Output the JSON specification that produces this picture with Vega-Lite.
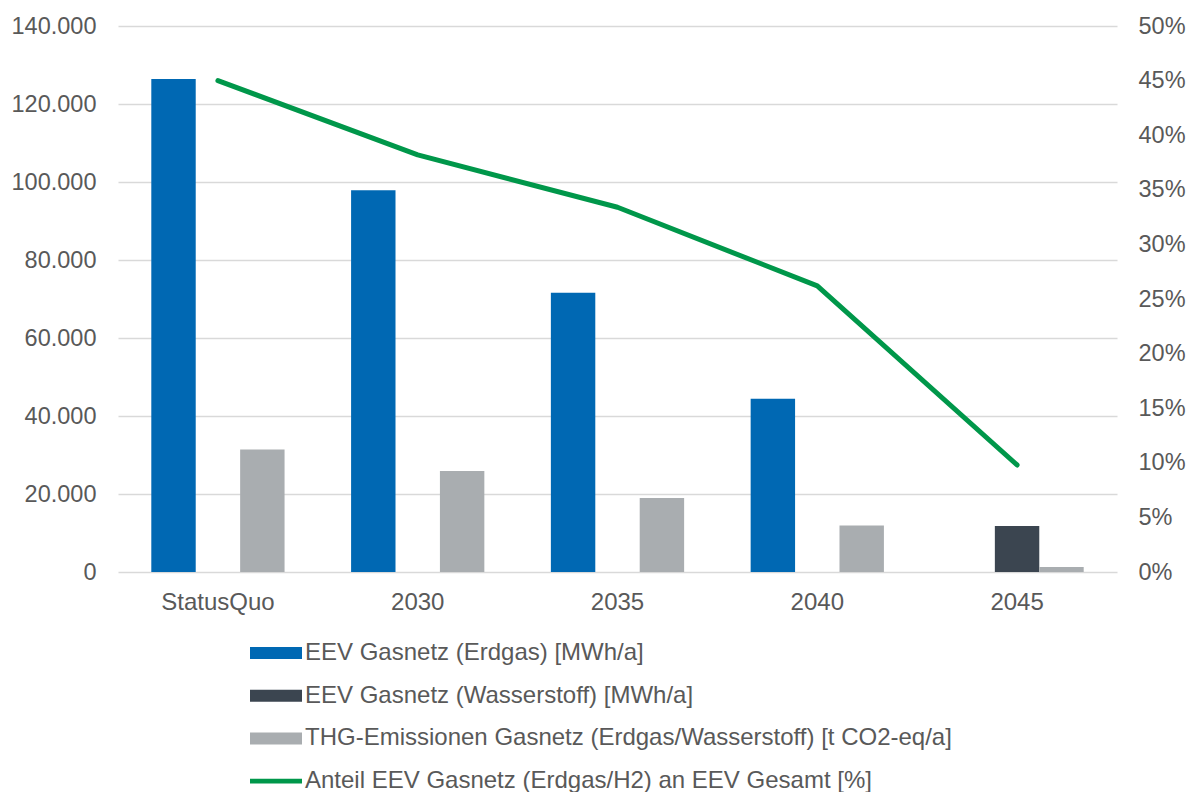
{
  "$schema": "https://vega.github.io/schema/vega-lite/v6.json",
  "width": 999,
  "height": 546,
  "autosize": "none",
  "padding": {"left": 118, "top": 26, "right": 71, "bottom": 220},
  "background": "white",
  "config": {
    "view": {"stroke": null},
    "font": "Liberation Sans",
    "axis": {"labelFont": "Liberation Sans", "labelColor": "#595959", "labelFontSize": 23.5, "title": null}
  },
  "data": {
    "values": [
      {"Kategorie": "StatusQuo", "Serie": "EEV Gasnetz (Erdgas) [MWh/a]", "Wert": 126400},
      {"Kategorie": "2030", "Serie": "EEV Gasnetz (Erdgas) [MWh/a]", "Wert": 97900},
      {"Kategorie": "2035", "Serie": "EEV Gasnetz (Erdgas) [MWh/a]", "Wert": 71600},
      {"Kategorie": "2040", "Serie": "EEV Gasnetz (Erdgas) [MWh/a]", "Wert": 44400},
      {"Kategorie": "2045", "Serie": "EEV Gasnetz (Wasserstoff) [MWh/a]", "Wert": 11800},
      {"Kategorie": "StatusQuo", "Serie": "THG-Emissionen Gasnetz (Erdgas/Wasserstoff) [t CO2-eq/a]", "Wert": 31400},
      {"Kategorie": "2030", "Serie": "THG-Emissionen Gasnetz (Erdgas/Wasserstoff) [t CO2-eq/a]", "Wert": 25900},
      {"Kategorie": "2035", "Serie": "THG-Emissionen Gasnetz (Erdgas/Wasserstoff) [t CO2-eq/a]", "Wert": 19000},
      {"Kategorie": "2040", "Serie": "THG-Emissionen Gasnetz (Erdgas/Wasserstoff) [t CO2-eq/a]", "Wert": 11900},
      {"Kategorie": "2045", "Serie": "THG-Emissionen Gasnetz (Erdgas/Wasserstoff) [t CO2-eq/a]", "Wert": 1300},
      {"Kategorie": "StatusQuo", "Serie": "Anteil EEV Gasnetz (Erdgas/H2) an EEV Gesamt [%]", "Wert": 45.0},
      {"Kategorie": "2030", "Serie": "Anteil EEV Gasnetz (Erdgas/H2) an EEV Gesamt [%]", "Wert": 38.2},
      {"Kategorie": "2035", "Serie": "Anteil EEV Gasnetz (Erdgas/H2) an EEV Gesamt [%]", "Wert": 33.4},
      {"Kategorie": "2040", "Serie": "Anteil EEV Gasnetz (Erdgas/H2) an EEV Gesamt [%]", "Wert": 26.2},
      {"Kategorie": "2045", "Serie": "Anteil EEV Gasnetz (Erdgas/H2) an EEV Gesamt [%]", "Wert": 9.8}
    ]
  },
  "encoding": {
    "x": {
      "field": "Kategorie",
      "type": "nominal",
      "sort": ["StatusQuo", "2030", "2035", "2040", "2045"],
      "scale": {"paddingInner": 0.333, "paddingOuter": 0.1667},
      "axis": {"labelAngle": 0, "domain": false, "ticks": false, "labelPadding": 18, "labelFontSize": 24}
    },
    "color": {
      "field": "Serie",
      "type": "nominal",
      "scale": {
        "domain": [
          "EEV Gasnetz (Erdgas) [MWh/a]",
          "EEV Gasnetz (Wasserstoff) [MWh/a]",
          "THG-Emissionen Gasnetz (Erdgas/Wasserstoff) [t CO2-eq/a]",
          "Anteil EEV Gasnetz (Erdgas/H2) an EEV Gesamt [%]"
        ],
        "range": ["#0068b3", "#3b4550", "#a9adb0", "#00974a"]
      },
      "legend": {
        "title": null,
        "orient": "none",
        "legendX": 132,
        "legendY": 601,
        "direction": "vertical",
        "labelFont": "Liberation Sans",
        "labelFontSize": 24,
        "labelColor": "#595959",
        "labelOffset": 3,
        "labelLimit": 900,
        "rowPadding": 4.7,
        "symbolType": "M-1,-0.23H1V0.23H-1Z",
        "symbolSize": 2704,
        "symbolStrokeWidth": 0,
        "encode": {
          "symbols": {
            "update": {
              "shape": {"signal": "datum.value === 'Anteil EEV Gasnetz (Erdgas/H2) an EEV Gesamt [%]' ? 'M-1,-0.09H1V0.09H-1Z' : 'M-1,-0.23H1V0.23H-1Z'"},
              "fill": {"scale": "color", "field": "value"},
              "fillOpacity": {"value": 1},
              "strokeWidth": {"value": 0}
            }
          }
        }
      }
    }
  },
  "layer": [
    {
      "transform": [{"filter": "datum.Serie !== 'Anteil EEV Gasnetz (Erdgas/H2) an EEV Gesamt [%]'"}],
      "mark": {"type": "bar"},
      "encoding": {
        "xOffset": {
          "field": "Serie",
          "type": "nominal",
          "scale": {
            "domain": [
              "EEV Gasnetz (Erdgas) [MWh/a]",
              "EEV Gasnetz (Wasserstoff) [MWh/a]",
              "THG-Emissionen Gasnetz (Erdgas/Wasserstoff) [t CO2-eq/a]"
            ],
            "paddingInner": 0,
            "paddingOuter": 0
          }
        },
        "y": {
          "field": "Wert",
          "type": "quantitative",
          "scale": {"domain": [0, 140000], "nice": false},
          "axis": {
            "values": [0, 20000, 40000, 60000, 80000, 100000, 120000, 140000],
            "labelExpr": "replace(format(datum.value, ','), ',', '.')",
            "grid": true,
            "gridColor": "#d9d9d9",
            "gridWidth": 1.5,
            "domain": false,
            "ticks": false,
            "labelPadding": 22
          }
        }
      }
    },
    {
      "transform": [{"filter": "datum.Serie === 'Anteil EEV Gasnetz (Erdgas/H2) an EEV Gesamt [%]'"}],
      "mark": {"type": "line", "strokeWidth": 5, "strokeCap": "round", "strokeJoin": "round"},
      "encoding": {
        "x": {"field": "Kategorie", "type": "nominal", "sort": ["StatusQuo", "2030", "2035", "2040", "2045"], "bandPosition": 0.5},
        "y": {
          "field": "Wert",
          "type": "quantitative",
          "scale": {"domain": [0, 50], "nice": false},
          "axis": {
            "orient": "right",
            "values": [0, 5, 10, 15, 20, 25, 30, 35, 40, 45, 50],
            "labelExpr": "datum.value + '%'",
            "grid": false,
            "domain": false,
            "ticks": false,
            "labelPadding": 21,
            "labelAlign": "left"
          }
        }
      }
    }
  ],
  "resolve": {"scale": {"y": "independent"}}
}
